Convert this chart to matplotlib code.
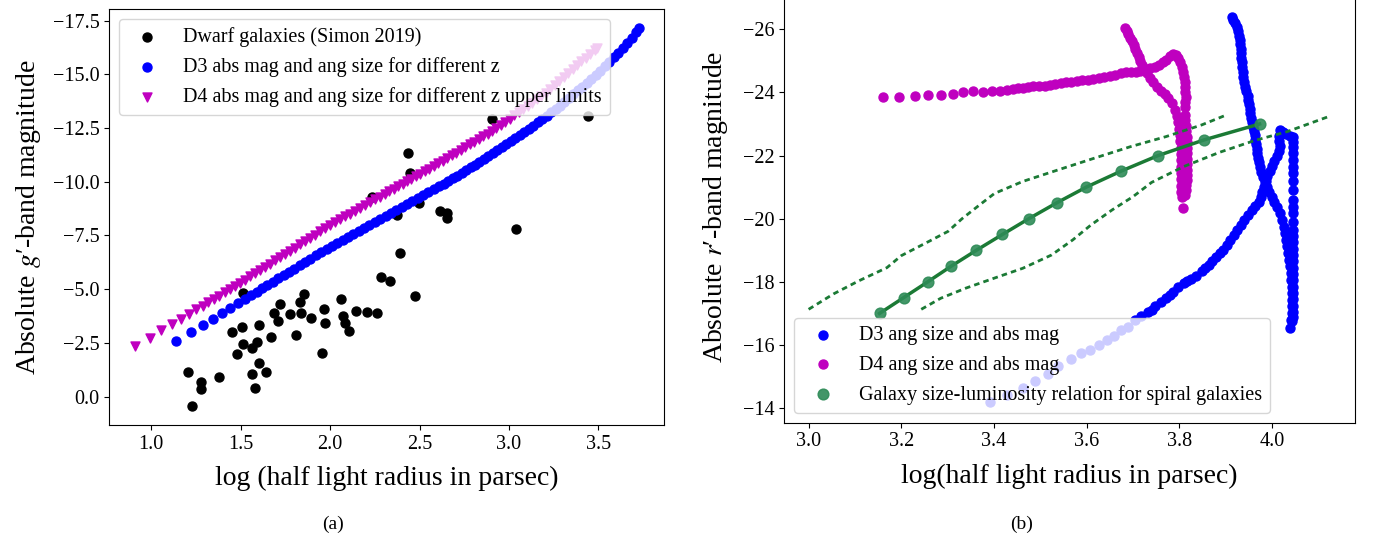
import matplotlib
matplotlib.use("Agg")
import matplotlib.pyplot as plt

plt.rcParams['font.family'] = ['Liberation Serif', 'DejaVu Serif']
plt.rcParams['mathtext.fontset'] = 'stix'

# ---------------- panel (a) data ----------------
# dwarf galaxies (Simon 2019): log r_half [pc], abs g' mag
dwarf_logr = [1.514, 1.855, 1.831, 1.722, 2.060, 2.287, 2.337, 2.473, 1.687, 1.778,
              1.840, 1.892, 1.966, 1.974, 2.073, 2.085, 2.104, 2.147, 2.205, 2.263,
              1.709, 1.603, 1.505, 1.449, 1.672, 1.812, 1.592, 1.514, 1.566, 1.480,
              1.955, 1.603, 1.642, 1.566, 1.203, 1.281, 1.281, 1.380, 1.579, 1.229,
              2.907, 2.437, 2.447, 2.233, 2.499, 2.373, 2.615, 2.655, 2.652, 3.039,
              2.391, 3.439]
dwarf_mag = [-4.81, -4.77, -4.42, -4.30, -4.55, -5.59, -5.38, -4.70, -3.88, -3.83,
             -3.88, -3.65, -4.07, -3.44, -3.77, -3.44, -3.07, -4.00, -3.93, -3.88,
             -3.54, -3.34, -3.26, -3.03, -2.76, -2.87, -2.53, -2.45, -2.25, -1.97,
             -2.05, -1.55, -1.16, -1.04, -1.15, -0.70, -0.37, -0.90, -0.39, 0.42,
             -12.92, -11.36, -10.43, -9.31, -9.03, -8.46, -8.64, -8.54, -8.30, -7.79,
             -6.67, -13.06]

# D3 abs mag and angular size for different z
d3_logr = [1.141, 1.225, 1.291, 1.348, 1.398, 1.443, 1.486, 1.523, 1.560,
           1.590, 1.620, 1.650, 1.680, 1.710, 1.740, 1.770, 1.800, 1.830, 1.860,
           1.890, 1.920, 1.950, 1.980, 2.010, 2.040, 2.070, 2.100, 2.130, 2.160,
           2.190, 2.220, 2.250, 2.280, 2.310, 2.340, 2.370, 2.400, 2.430, 2.460,
           2.490, 2.520, 2.550, 2.580, 2.610, 2.635, 2.660, 2.685, 2.710, 2.735,
           2.760, 2.785, 2.810, 2.835, 2.860, 2.885, 2.910, 2.935, 2.960, 2.985,
           3.010, 3.035, 3.060, 3.085, 3.110, 3.135, 3.160, 3.185, 3.210, 3.235,
           3.260, 3.285, 3.310, 3.335, 3.360, 3.385, 3.410, 3.435, 3.460, 3.485,
           3.510, 3.535, 3.560, 3.585, 3.610, 3.635, 3.660, 3.685, 3.710, 3.728]
d3_mag = [-2.61, -3.03, -3.34, -3.63, -3.91, -4.11, -4.35, -4.55, -4.73,
          -4.89, -5.04, -5.20, -5.35, -5.50, -5.65, -5.81, -5.96, -6.11, -6.27,
          -6.42, -6.57, -6.73, -6.88, -7.03, -7.17, -7.31, -7.45, -7.59, -7.73,
          -7.86, -8.00, -8.14, -8.27, -8.41, -8.54, -8.68, -8.82, -8.96, -9.10,
          -9.23, -9.37, -9.51, -9.66, -9.80, -9.92, -10.04, -10.17, -10.29, -10.42,
          -10.55, -10.67, -10.80, -10.94, -11.07, -11.20, -11.33, -11.47, -11.61, -11.75,
          -11.89, -12.03, -12.17, -12.31, -12.46, -12.61, -12.76, -12.91, -13.07, -13.23,
          -13.39, -13.55, -13.72, -13.90, -14.07, -14.25, -14.43, -14.61, -14.80, -14.99,
          -15.18, -15.39, -15.59, -15.80, -16.01, -16.24, -16.48, -16.71, -16.95, -17.15]

# D4 upper limits
d4_logr = [0.909, 0.991, 1.054, 1.114, 1.166, 1.211, 1.253, 1.287, 1.318, 1.352,
           1.380, 1.412, 1.440, 1.467, 1.495, 1.523, 1.551, 1.579, 1.607, 1.635,
           1.663, 1.691, 1.719, 1.747, 1.775, 1.803, 1.831, 1.859, 1.887, 1.915,
           1.943, 1.971, 2.000, 2.028, 2.056, 2.084, 2.112, 2.140, 2.168, 2.196,
           2.224, 2.252, 2.280, 2.305, 2.330, 2.355, 2.380, 2.405, 2.430, 2.455,
           2.480, 2.505, 2.530, 2.555, 2.580, 2.605, 2.630, 2.655, 2.680, 2.705,
           2.730, 2.755, 2.780, 2.805, 2.830, 2.855, 2.880, 2.905, 2.930, 2.955,
           2.980, 3.005, 3.030, 3.055, 3.080, 3.105, 3.130, 3.155, 3.180, 3.205,
           3.230, 3.255, 3.280, 3.305, 3.330, 3.355, 3.380, 3.405, 3.430, 3.455,
           3.480, 3.490]
d4_mag = [-2.37, -2.75, -3.10, -3.38, -3.62, -3.85, -4.07, -4.24, -4.39, -4.55,
          -4.70, -4.86, -5.00, -5.15, -5.30, -5.45, -5.60, -5.75, -5.90, -6.05,
          -6.19, -6.34, -6.49, -6.64, -6.79, -6.94, -7.09, -7.24, -7.39, -7.54,
          -7.69, -7.84, -7.99, -8.12, -8.25, -8.39, -8.52, -8.65, -8.78, -8.92,
          -9.05, -9.18, -9.31, -9.43, -9.55, -9.67, -9.79, -9.90, -10.02, -10.14,
          -10.26, -10.38, -10.50, -10.61, -10.74, -10.86, -10.99, -11.11, -11.24, -11.36,
          -11.49, -11.61, -11.74, -11.86, -11.99, -12.11, -12.24, -12.36, -12.49, -12.64,
          -12.79, -12.94, -13.09, -13.24, -13.39, -13.54, -13.69, -13.84, -13.99, -14.14,
          -14.32, -14.50, -14.69, -14.87, -15.05, -15.24, -15.42, -15.60, -15.78, -15.97,
          -16.15, -16.22]

# ---------------- panel (b) data ----------------
d3b_logr = [3.391, 3.428, 3.462, 3.489, 3.516, 3.539, 3.566, 3.588, 3.607, 3.626,
            3.644, 3.659, 3.674, 3.690, 3.705, 3.717, 3.732, 3.740, 3.748, 3.760,
            3.771, 3.779, 3.786, 3.797, 3.809, 3.817, 3.825, 3.836, 3.848, 3.856,
            3.863, 3.871, 3.879, 3.887, 3.894, 3.902, 3.909, 3.917, 3.925, 3.932,
            3.940, 3.948, 3.956, 3.963, 3.971, 3.975, 3.978, 3.982, 3.986, 3.990,
            3.995, 4.000, 4.005, 4.010, 4.014, 4.016, 4.015, 4.014, 4.017, 4.024,
            4.030, 4.038, 4.045, 4.046, 4.045, 4.045, 4.045, 4.045, 4.045, 4.045,
            4.045, 4.045, 4.045, 4.045, 4.045, 4.045, 4.046, 4.046, 4.046, 4.046,
            4.046, 4.046, 4.046, 4.046, 4.046, 4.046, 4.046, 4.045, 4.045, 4.044,
            4.043,
            3.913, 3.916, 3.920, 3.924, 3.927, 3.929, 3.931, 3.931, 3.932, 3.932,
            3.933, 3.934, 3.935, 3.937, 3.938, 3.940, 3.942, 3.944, 3.947, 3.947,
            3.950, 3.952, 3.953, 3.955, 3.957, 3.958, 3.960, 3.962, 3.963, 3.965,
            3.967, 3.968, 3.970, 3.972, 3.974, 3.977, 3.981, 3.985, 3.988, 3.993,
            3.999, 4.004, 4.010, 4.016, 4.021, 4.025, 4.028, 4.031, 4.033, 4.035,
            4.037, 4.039, 4.040, 4.041, 4.042, 4.042, 4.042, 4.042, 4.042, 4.040,
            4.039]
d3b_mag = [-14.18, -14.42, -14.65, -14.86, -15.09, -15.32, -15.55, -15.74, -15.85, -16.00,
           -16.16, -16.29, -16.48, -16.58, -16.80, -16.92, -17.03, -17.12, -17.22, -17.35,
           -17.48, -17.58, -17.69, -17.83, -17.96, -18.02, -18.08, -18.20, -18.33, -18.44,
           -18.54, -18.67, -18.80, -18.91, -19.01, -19.17, -19.33, -19.49, -19.65, -19.80,
           -19.96, -20.12, -20.28, -20.41, -20.54, -20.70, -20.86, -21.02, -21.18, -21.34,
           -21.50, -21.66, -21.82, -21.98, -22.14, -22.30, -22.46, -22.62, -22.80, -22.76,
           -22.68, -22.62, -22.60, -22.44, -22.28, -22.07, -21.86, -21.65, -21.44, -21.18,
           -20.91, -20.60, -20.38, -20.17, -19.91, -19.65, -19.45, -19.25, -19.05, -18.85,
           -18.65, -18.45, -18.25, -18.05, -17.85, -17.65, -17.45, -17.25, -17.05, -16.90,
           -16.75,
           -26.40, -26.30, -26.19, -26.06, -25.93, -25.80, -25.66, -25.52, -25.38, -25.24,
           -25.10, -24.96, -24.82, -24.66, -24.50, -24.34, -24.18, -24.04, -23.90, -23.76,
           -23.62, -23.48, -23.34, -23.20, -23.06, -22.92, -22.78, -22.64, -22.50, -22.36,
           -22.21, -22.07, -21.93, -21.79, -21.65, -21.49, -21.33, -21.17, -21.02, -20.86,
           -20.70, -20.54, -20.38, -20.17, -19.96, -19.75, -19.54, -19.33, -19.12, -18.91,
           -18.70, -18.49, -18.27, -18.06, -17.85, -17.64, -17.43, -17.22, -17.01, -16.80,
           -16.53]

d4b_logr = [3.160, 3.196, 3.230, 3.258, 3.285, 3.311, 3.334, 3.355, 3.376, 3.395,
            3.412, 3.427, 3.440, 3.451, 3.462, 3.473, 3.485, 3.497, 3.509, 3.520,
            3.532, 3.544, 3.555, 3.566, 3.578, 3.590, 3.602, 3.614, 3.626, 3.638,
            3.650, 3.662, 3.673, 3.684, 3.695, 3.706, 3.716, 3.726, 3.737, 3.748,
            3.757, 3.765, 3.772, 3.779, 3.786, 3.792, 3.798, 3.802, 3.805, 3.807,
            3.809, 3.811, 3.812, 3.813, 3.814, 3.813, 3.812, 3.812, 3.813, 3.814,
            3.815, 3.816, 3.817, 3.817, 3.817, 3.817, 3.817, 3.817, 3.816, 3.816,
            3.815, 3.814, 3.812, 3.807,
            3.682, 3.686, 3.690, 3.694, 3.698, 3.701, 3.705, 3.709, 3.712, 3.716,
            3.720, 3.725, 3.730, 3.737, 3.744, 3.751, 3.760, 3.768, 3.776, 3.783,
            3.791, 3.795, 3.798, 3.800, 3.801, 3.802, 3.803, 3.803, 3.803, 3.803,
            3.803, 3.803, 3.803, 3.804, 3.805]
d4b_mag = [-23.85, -23.87, -23.89, -23.91, -23.92, -23.94, -24.02, -24.04, -24.02, -24.04,
           -24.06, -24.08, -24.12, -24.13, -24.15, -24.17, -24.20, -24.21, -24.21, -24.24,
           -24.27, -24.31, -24.34, -24.34, -24.37, -24.40, -24.40, -24.41, -24.45, -24.50,
           -24.52, -24.55, -24.61, -24.66, -24.64, -24.65, -24.69, -24.72, -24.77, -24.82,
           -24.88, -24.95, -25.04, -25.14, -25.22, -25.18, -25.08, -24.95, -24.82, -24.66,
           -24.50, -24.34, -24.18, -24.02, -23.87, -23.71, -23.55, -23.29, -23.12, -22.95,
           -22.78, -22.60, -22.43, -22.25, -22.07, -21.90, -21.72, -21.55, -21.38, -21.23,
           -21.07, -20.91, -20.75, -20.33,
           -26.05, -25.95, -25.85, -25.72, -25.62, -25.50, -25.38, -25.24, -25.12, -25.00,
           -24.88, -24.74, -24.61, -24.46, -24.32, -24.18, -24.06, -23.94, -23.82, -23.66,
           -23.45, -23.25, -23.05, -22.85, -22.65, -22.45, -22.25, -22.05, -21.85, -21.65,
           -21.45, -21.25, -21.05, -20.85, -20.70]

# galaxy size-luminosity relation for spirals (with scatter bounds)
rel_mag = [-17.0, -17.5, -18.0, -18.5, -19.0, -19.5, -20.0, -20.5, -21.0, -21.5, -22.0, -22.5, -23.0]
rel_logr = [3.153, 3.205, 3.257, 3.308, 3.362, 3.418, 3.475, 3.535, 3.599, 3.673, 3.754, 3.854, 3.973]
upper_logr = [3.000, 3.054, 3.108, 3.169, 3.200, 3.262, 3.301, 3.331, 3.370, 3.401,
              3.462, 3.539, 3.617, 3.694, 3.771, 3.848, 3.902]
upper_mag = [-17.13, -17.62, -18.03, -18.45, -18.83, -19.30, -19.60, -20.00, -20.45, -20.80,
             -21.18, -21.55, -21.92, -22.28, -22.60, -22.97, -23.29]
lower_logr = [3.243, 3.285, 3.339, 3.401, 3.462, 3.524, 3.570, 3.609, 3.655, 3.700,
              3.740, 3.809, 3.886, 3.963, 4.033, 4.121]
lower_mag = [-17.13, -17.48, -17.80, -18.12, -18.43, -18.85, -19.33, -19.80, -20.28, -20.70,
             -21.15, -21.65, -22.10, -22.48, -22.76, -23.23]

tick_fs = 14.5
label_fs = 20
legend_fs = 14.5
pt_size = 42

fig = plt.figure(figsize=(13.76, 5.49), dpi=100)

# ---------------- panel (a) ----------------
ax1 = fig.add_axes([0.0792, 0.2259, 0.4033, 0.7572])
ax1.scatter(dwarf_logr, dwarf_mag, color='black', s=pt_size, label='Dwarf galaxies (Simon 2019)')
ax1.scatter(d3_logr, d3_mag, color='b', s=pt_size, label='D3 abs mag and ang size for different z')
ax1.scatter(d4_logr, d4_mag, color='m', marker='v', s=pt_size,
            label='D4 abs mag and ang size for different z upper limits')
ax1.set_xlim(0.764, 3.866)
ax1.set_ylim(1.32, -18.03)
ax1.set_xticks([1.0, 1.5, 2.0, 2.5, 3.0, 3.5])
ax1.set_yticks([-17.5, -15.0, -12.5, -10.0, -7.5, -5.0, -2.5, 0.0])
ax1.tick_params(labelsize=tick_fs)
ax1.set_xlabel('log (half light radius in parsec)', fontsize=label_fs, labelpad=9)
ax1.set_ylabel("Absolute $g$\u2032-band magnitude", fontsize=label_fs, labelpad=7)
ax1.legend(loc='upper left', fontsize=legend_fs)

# ---------------- panel (b) ----------------
ax2 = fig.add_axes([0.5700, 0.2301, 0.4148, 0.7856])
ax2.scatter(d3b_logr, d3b_mag, color='b', s=pt_size, label='D3 ang size and abs mag')
ax2.scatter(d4b_logr, d4b_mag, color='m', s=pt_size, label='D4 ang size and abs mag')
ax2.plot(rel_logr, rel_mag, '-', color='#1b7a35', lw=2.5)
ax2.scatter(rel_logr, rel_mag, color='#2e8b57', s=60, alpha=0.9, zorder=3,
            label='Galaxy size-luminosity relation for spiral galaxies')
ax2.plot(upper_logr, upper_mag, color='#1b7a35', lw=2, dashes=(2, 1.5))
ax2.plot(lower_logr, lower_mag, color='#1b7a35', lw=2, dashes=(2, 1.5))
ax2.set_xlim(2.9476, 4.179)
ax2.set_ylim(-13.54, -27.2)
ax2.set_xticks([3.0, 3.2, 3.4, 3.6, 3.8, 4.0])
ax2.set_yticks([-26, -24, -22, -20, -18, -16, -14])
ax2.tick_params(labelsize=tick_fs)
ax2.set_xlabel('log(half light radius in parsec)', fontsize=label_fs, labelpad=9)
ax2.set_ylabel("Absolute $r$\u2032-band magnitude", fontsize=label_fs, labelpad=9)
ax2.legend(loc='lower left', fontsize=legend_fs)

fig.text(333 / 1376, 1 - 524 / 549, '(a)', ha='center', va='center', fontsize=14)
fig.text(1022 / 1376, 1 - 524 / 549, '(b)', ha='center', va='center', fontsize=14)

fig.savefig('out.png', dpi=100)
